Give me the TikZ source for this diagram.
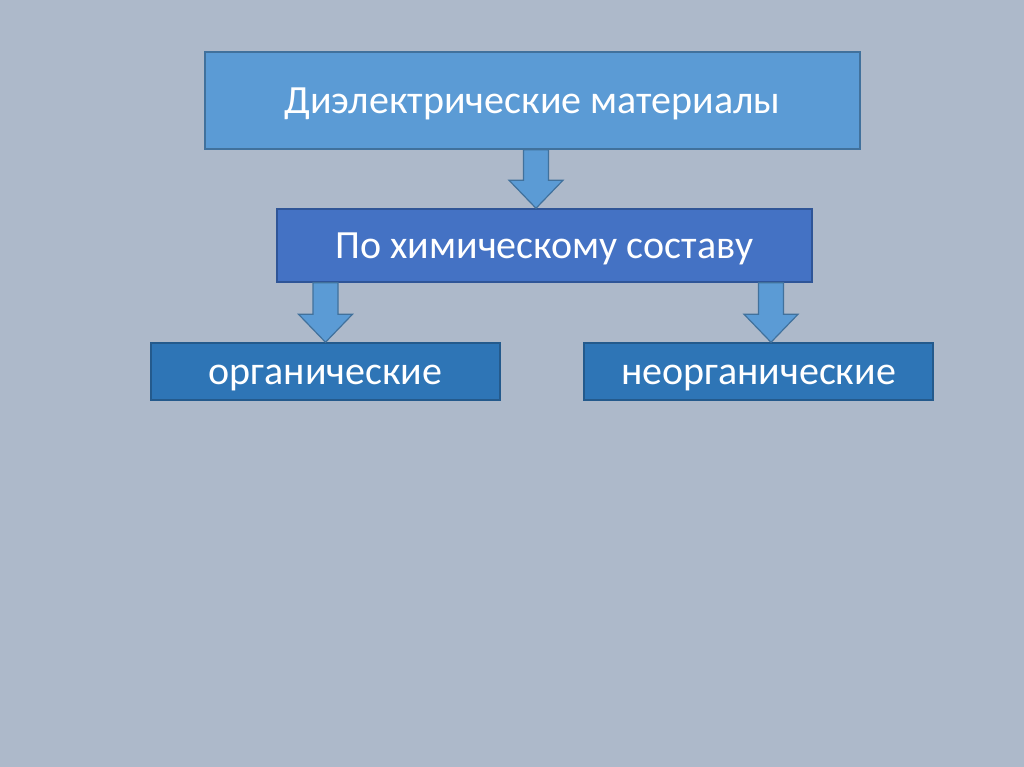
\documentclass[tikz,border=0pt]{standalone}
\usepackage{fontspec}
\setmainfont{Carlito}
\usetikzlibrary{calc}
\definecolor{slide}{HTML}{ADB9CA}
\definecolor{lightblue}{HTML}{5B9BD5}
\definecolor{midblue}{HTML}{4472C4}
\definecolor{deepblue}{HTML}{2E75B6}
\definecolor{edgeblue}{HTML}{41719C}
\definecolor{edgemid}{HTML}{2F5597}
\definecolor{edgedeep}{HTML}{245A8C}

\begin{document}
\begin{tikzpicture}[
    x=1pt, y=-1pt,
    block/.style={
      rectangle,
      line width=1.5pt,
      text=white,
      font=\fontsize{40}{46}\selectfont,
      inner sep=0pt,
      text height=26pt,
      text depth=0pt,
    },
    head/.style={
      block,
      draw=edgeblue,
      fill=lightblue,
    },
    group/.style={
      block,
      draw=edgemid,
      fill=midblue,
    },
    kind/.style={
      block,
      draw=edgedeep,
      fill=deepblue,
    },
    barrow/.style={
      draw=edgeblue,
      fill=lightblue,
      line width=1.2pt,
      line join=miter,
    },
    ]
    \fill[slide] (0,0) rectangle (1024,767);
    \useasboundingbox (0,0) rectangle (1024,767);

    \node[head, minimum width=655pt, minimum height=97pt] (diel) at (532.5,100.5) {Диэлектрические материалы};
    \node[group, minimum width=535pt, minimum height=73pt] (chem) at (544.5,245.5) {По химическому составу};
    \node[kind, minimum width=349pt, minimum height=57pt] (org) at (325.5,371.5) {органические};
    \node[kind, minimum width=349pt, minimum height=57pt] (inorg) at (758.5,371.5) {неорганические};

    \coordinate (a1) at (diel.south -| 536,0);
    \coordinate (b1) at (chem.north -| 536,0);
    \coordinate (a2) at (chem.south -| 325.5,0);
    \coordinate (b2) at (org.north -| 325.5,0);
    \coordinate (a3) at (chem.south -| 771,0);
    \coordinate (b3) at (inorg.north -| 771,0);

    \foreach \s/\t in {a1/b1, a2/b2, a3/b3}
      \draw[barrow] let \p1=(\s), \p2=(\t) in
        (\x1-12.5pt,\y1) -- (\x1-12.5pt,\y2+28pt) -- (\x1-27pt,\y2+28pt) -- (\x1,\y2)
        -- (\x1+27pt,\y2+28pt) -- (\x1+12.5pt,\y2+28pt) -- (\x1+12.5pt,\y1) -- cycle;
  \end{tikzpicture}
\end{document}
